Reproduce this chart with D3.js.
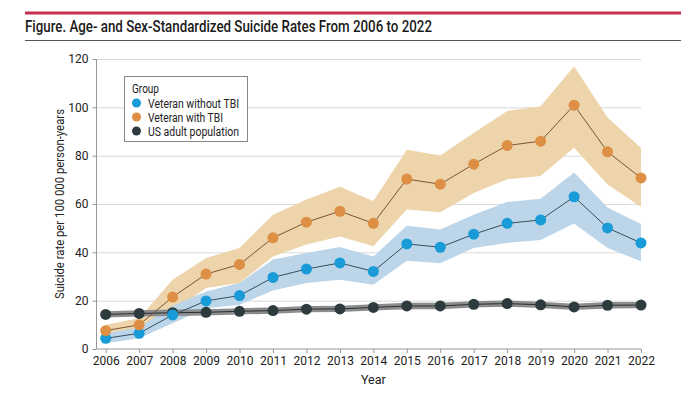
<!DOCTYPE html>
<html>
<head>
<meta charset="utf-8">
<script src="https://cdn.jsdelivr.net/npm/d3@7"></script>
<style>
  body { margin: 0; background: #fff; }
  text { font-family: Roboto, "Open Sans", sans-serif; fill: #222; }
</style>
</head>
<body>
<div id="chart"></div>
<script>
// Data
const years = [2006, 2007, 2008, 2009, 2010, 2011, 2012, 2013, 2014, 2015, 2016, 2017, 2018, 2019, 2020, 2021, 2022];

const tbiRate  = [7.6, 10, 21.5, 31, 35, 46, 52.5, 57, 52, 70.3, 68.2, 76.5, 84.2, 86, 100.9, 81.6, 70.8];
const tbiLow   = [5.1, 7.9, 15.5, 25.2, 27.3, 38.3, 43.2, 46.6, 42.5, 57.7, 56.6, 64.6, 70.2, 71.6, 83.3, 68.1, 58.8];
const tbiHigh  = [10, 12.7, 28.7, 37.7, 41.8, 55.6, 61.9, 67.1, 61.2, 82.4, 80.1, 89.4, 98.5, 100.4, 117, 95.8, 83.2];

const noTbiRate = [4.4, 6.5, 14.1, 19.9, 22.1, 29.6, 33.1, 35.6, 32.1, 43.5, 42.1, 47.5, 52, 53.4, 63, 50.1, 43.9];
const noTbiLow  = [2.4, 4.4, 10.7, 16.9, 18.3, 24.2, 27.3, 28.7, 26.6, 36.5, 35.5, 41.8, 43.9, 45.1, 51.9, 41.8, 36.3];
const noTbiHigh = [6.5, 8.9, 17.9, 23.8, 27.3, 37, 39.7, 42.2, 38.3, 51, 49.4, 55.6, 60.8, 62.2, 73, 58.6, 51.7];

const usRate = [14.3, 14.7, 15, 15.2, 15.6, 15.9, 16.5, 16.6, 17.2, 17.8, 17.8, 18.5, 18.8, 18.3, 17.4, 18.1, 18.2];
const usLow  = [13.0, 13.4, 13.7, 13.9, 14.3, 14.6, 15.2, 15.3, 15.9, 16.5, 16.5, 17.2, 17.5, 17.0, 16.1, 16.8, 16.9];
const usHigh = [15.6, 16.0, 16.3, 16.5, 16.9, 17.2, 17.8, 17.9, 18.5, 19.1, 19.1, 19.8, 20.1, 19.6, 18.7, 19.4, 19.5];

const yTicks = [0, 20, 40, 60, 80, 100, 120];
const groupNames = ["Veteran without TBI", "Veteran with TBI", "US adult population"];

const width = 700, height = 411;

const svg = d3.select("#chart")
    .append("svg")
    .attr("width", width)
    .attr("height", height);

// Header: red rule, title, thin rule
svg.append("line")
    .attr("x1", 25).attr("x2", 681)
    .attr("y1", 13).attr("y2", 13)
    .attr("stroke", "#c4304f")
    .attr("stroke-width", 3);

svg.append("text")
    .attr("x", 25)
    .attr("y", 32)
    .attr("textLength", 407)
    .attr("lengthAdjust", "spacingAndGlyphs")
    .style("font-size", "16.5px")
    .style("font-weight", "500")
    .style("fill", "#1a1a1a")
    .text("Figure. Age- and Sex-Standardized Suicide Rates From 2006 to 2022");

svg.append("line")
    .attr("x1", 25).attr("x2", 681)
    .attr("y1", 40.5).attr("y2", 40.5)
    .attr("stroke", "#555")
    .attr("stroke-width", 1);

// Scales
const x = d3.scaleLinear().domain([2006, 2022]).range([105.7, 641]);
const y = d3.scaleLinear().domain([0, 120]).range([349, 59]);
const axisLeftX = 96.5;

// Gridlines
svg.append("g")
    .selectAll("line")
    .data(yTicks.filter(d => d > 0))
    .enter()
    .append("line")
    .attr("x1", axisLeftX)
    .attr("x2", x(2022))
    .attr("y1", d => y(d) + 0.5)
    .attr("y2", d => y(d) + 0.5)
    .attr("stroke", "#d9d9d9")
    .attr("stroke-width", 1);

// Y axis
const yAxis = svg.append("g")
    .attr("transform", `translate(${axisLeftX},0)`)
    .call(d3.axisLeft(y).tickValues(yTicks).tickSize(4).tickPadding(4));
yAxis.select(".domain").attr("stroke", "#999").attr("d", `M-0,${y(0)}V${y(120)}`);
yAxis.selectAll(".tick line").attr("stroke", "#999");
yAxis.selectAll(".tick text")
    .style("font-size", "12px")
    .style("fill", "#222")
    .style("font-family", "Roboto, sans-serif");

// X axis
const xAxis = svg.append("g")
    .attr("transform", `translate(0,${y(0)})`)
    .call(d3.axisBottom(x).tickValues(years).tickFormat(d3.format("d")).tickSize(4).tickPadding(3));
xAxis.select(".domain").attr("stroke", "#999").attr("d", `M${axisLeftX},0H${x(2022)}`);
xAxis.selectAll(".tick line").attr("stroke", "#999");
xAxis.selectAll(".tick text")
    .style("font-size", "12px")
    .style("fill", "#222")
    .style("font-family", "Roboto, sans-serif");

// Axis titles
svg.append("text")
    .attr("x", x(2014))
    .attr("y", 384)
    .style("text-anchor", "middle")
    .style("font-size", "12.5px")
    .text("Year");

svg.append("text")
    .attr("transform", `translate(64,${y(60)}) rotate(-90)`)
    .attr("textLength", 190)
    .attr("lengthAdjust", "spacingAndGlyphs")
    .style("text-anchor", "middle")
    .style("font-size", "12.5px")
    .text("Suicide rate per 100 000 person-years");

// Series definitions
const series = [
    { name: groupNames[1], rate: tbiRate, low: tbiLow, high: tbiHigh, band: "#eed4ab", line: "#7a5632", dot: "#dd8f45" },
    { name: groupNames[0], rate: noTbiRate, low: noTbiLow, high: noTbiHigh, band: "#bcd5e8", line: "#34505f", dot: "#189bd6" },
    { name: groupNames[2], rate: usRate, low: usLow, high: usHigh, band: "#8a8c8d", line: "#2b2f31", dot: "#2e3b3e" }
];

const area = d3.area()
    .x((d, i) => x(years[i]))
    .y0(d => y(d[0]))
    .y1(d => y(d[1]));

const line = d3.line()
    .x((d, i) => x(years[i]))
    .y(d => y(d));

// Bands
series.forEach(s => {
    svg.append("path")
        .datum(s.low.map((v, i) => [v, s.high[i]]))
        .attr("d", area)
        .attr("fill", s.band);
});

// Lines and points (US first so veteran markers sit on top)
[series[2], series[1], series[0]].forEach(s => {
    svg.append("path")
        .datum(s.rate)
        .attr("d", line)
        .attr("fill", "none")
        .attr("stroke", s.line)
        .attr("stroke-width", 1);

    svg.append("g")
        .selectAll("circle")
        .data(s.rate)
        .enter()
        .append("circle")
        .attr("cx", (d, i) => x(years[i]))
        .attr("cy", d => y(d))
        .attr("r", 5.5)
        .attr("fill", s.dot);
});

// Legend
const legend = svg.append("g").attr("transform", "translate(124,76)");
legend.append("rect")
    .attr("x", 0.5).attr("y", 0.5)
    .attr("width", 123).attr("height", 65)
    .attr("fill", "#fff")
    .attr("stroke", "#888")
    .attr("stroke-width", 1);
legend.append("text")
    .attr("x", 8).attr("y", 17)
    .attr("textLength", 27)
    .attr("lengthAdjust", "spacingAndGlyphs")
    .style("font-size", "12.5px")
    .text("Group");

const legendColors = ["#189bd6", "#dd8f45", "#2e3b3e"];
const legendWidths = [91, 75, 91];
groupNames.forEach((name, i) => {
    legend.append("circle")
        .attr("cx", 12.5)
        .attr("cy", 27 + i * 14)
        .attr("r", 4.5)
        .attr("fill", legendColors[i]);
    legend.append("text")
        .attr("x", 24)
        .attr("y", 31.5 + i * 14)
        .attr("textLength", legendWidths[i])
        .attr("lengthAdjust", "spacingAndGlyphs")
        .style("font-size", "12.5px")
        .text(name);
});
</script>
</body>
</html>
